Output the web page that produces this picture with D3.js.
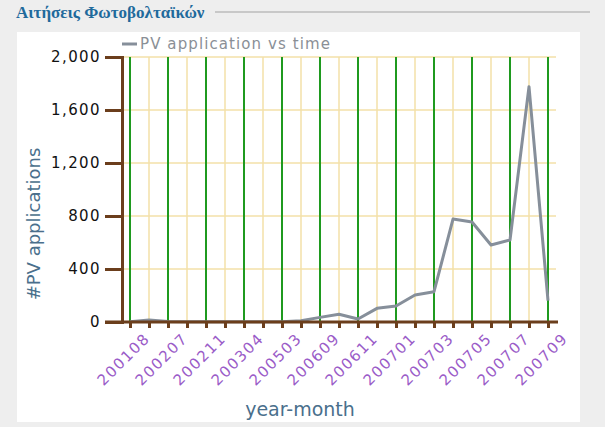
<!DOCTYPE html>
<html>
<head>
<meta charset="utf-8">
<script src="https://cdn.jsdelivr.net/npm/d3@7"></script>
<style>
  body { margin: 0; background: #eeeeee; }
  svg { display: block; }
</style>
</head>
<body>
<div id="chart"></div>
<script>
// year-month categories (every other one is labelled on the axis)
var months = ["200108", "200201", "200207", "200209", "200211", "200302", "200304", "200406",
              "200503", "200510", "200609", "200610", "200611", "200612", "200701", "200702",
              "200703", "200704", "200705", "200706", "200707", "200708", "200709"];
var applications = [2, 15, 3, 2, 2, 1, 1, 1, 1, 10, 35, 58, 23, 103, 121, 204, 229,
                    777, 755, 581, 619, 1776, 161];
var yTicks = [0, 400, 800, 1200, 1600, 2000];
var seriesName = "PV application vs time";

var width = 605, height = 427;
var font = "'DejaVu Sans', Verdana, sans-serif";

var svg = d3.select("#chart").append("svg")
    .attr("width", width)
    .attr("height", height);

// page title + rule
svg.append("text")
    .attr("x", 16)
    .attr("y", 18)
    .attr("fill", "#1f6a9c")
    .style("font-family", "'Liberation Serif', serif")
    .style("font-weight", "bold")
    .style("font-size", "17px")
    .text("Αιτήσεις Φωτοβολταϊκών");

svg.append("line")
    .attr("x1", 215).attr("x2", 590)
    .attr("y1", 12).attr("y2", 12)
    .attr("stroke", "#c8c8c8")
    .attr("stroke-width", 2);

// white panel
svg.append("rect")
    .attr("x", 17).attr("y", 32)
    .attr("width", 563).attr("height", 390)
    .attr("fill", "#fff");

var x = d3.scalePoint()
    .domain(months)
    .range([130, 548]);

var y = d3.scaleLinear()
    .domain([0, 2000])
    .range([322, 57]);

// grid
svg.append("g")
    .selectAll("line")
    .data(yTicks.slice(1))
    .enter().append("line")
    .attr("x1", 122).attr("x2", 556)
    .attr("y1", d => y(d)).attr("y2", d => y(d))
    .attr("stroke", "#f3e0a8")
    .attr("stroke-width", 1.5);

svg.append("g")
    .selectAll("line")
    .data(months)
    .enter().append("line")
    .attr("x1", d => x(d)).attr("x2", d => x(d))
    .attr("y1", y(2000)).attr("y2", y(0))
    .attr("stroke", (d, i) => i % 2 == 0 ? "#1f9a1f" : "#f3e0a8")
    .attr("stroke-width", (d, i) => i % 2 == 0 ? 2 : 1.5);

// line
var line = d3.line()
    .x((d, i) => x(months[i]))
    .y(d => y(d));

svg.append("path")
    .datum(applications)
    .attr("fill", "none")
    .attr("stroke", "#868f9a")
    .attr("stroke-width", 3)
    .attr("stroke-linejoin", "round")
    .attr("d", line);

// y axis
var yAxis = svg.append("g")
    .attr("transform", "translate(122,0)")
    .call(d3.axisLeft(y).tickValues(yTicks).tickSize(17).tickPadding(4).tickFormat(d3.format(",")));
yAxis.select(".domain").attr("stroke", "#6b3e1c").attr("stroke-width", 3);
yAxis.selectAll(".tick line").attr("stroke", "#6b3e1c").attr("stroke-width", 3);
yAxis.selectAll(".tick text")
    .attr("fill", "#111")
    .style("font-family", font)
    .style("font-size", "15px")
    .style("letter-spacing", "1.4px");

// x axis
var xAxis = svg.append("g")
    .attr("transform", "translate(0," + y(0) + ")")
    .call(d3.axisBottom(x).tickSize(6).tickSizeOuter(0)
        .tickFormat((d, i) => i % 2 == 0 ? d : ""));
xAxis.select(".domain")
    .attr("d", "M105,0H558")
    .attr("stroke", "#6b3e1c").attr("stroke-width", 3);
xAxis.selectAll(".tick line").attr("stroke", "#6b3e1c").attr("stroke-width", 3);
xAxis.selectAll(".tick text")
    .attr("fill", "#9a5cc8")
    .attr("text-anchor", "end")
    .attr("transform", "translate(6,3) rotate(-45)")
    .attr("dy", "0.75em")
    .style("font-family", font)
    .style("font-size", "15px")
    .style("letter-spacing", "1.6px");

// axis titles
svg.append("text")
    .attr("transform", "translate(40,224) rotate(-90)")
    .attr("text-anchor", "middle")
    .attr("fill", "#4a6f8c")
    .style("font-family", font)
    .style("font-size", "18px")
    .text("#PV applications");

svg.append("text")
    .attr("x", 300)
    .attr("y", 416)
    .attr("text-anchor", "middle")
    .attr("fill", "#4a6f8c")
    .style("font-family", font)
    .style("font-size", "19px")
    .text("year-month");

// legend
svg.append("line")
    .attr("x1", 122).attr("x2", 137)
    .attr("y1", 44).attr("y2", 44)
    .attr("stroke", "#868f9a")
    .attr("stroke-width", 3);

svg.append("text")
    .attr("x", 140)
    .attr("y", 49)
    .attr("fill", "#8a8f96")
    .style("font-family", font)
    .style("font-size", "15px")
    .style("letter-spacing", "1.1px")
    .text(seriesName);
</script>
</body>
</html>
